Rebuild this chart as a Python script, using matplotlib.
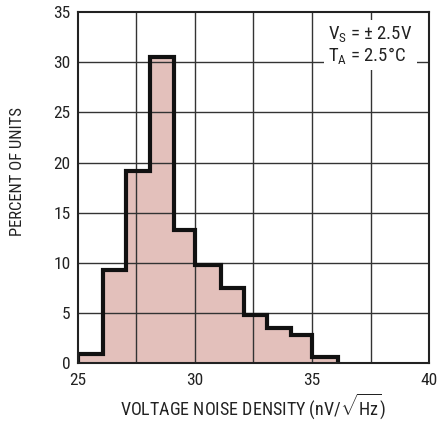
import matplotlib
matplotlib.use("Agg")
import matplotlib.pyplot as plt
from matplotlib import font_manager

# bin edges and heights
edges = [25, 26.08, 27.05, 28.07, 29.1, 30.0, 31.1, 32.08, 33.07, 34.1, 35.0, 36.1]
percent = [0.86, 9.3, 19.2, 30.5, 13.3, 9.8, 7.45, 4.8, 3.5, 2.75, 0.55]

xticks = [25, 30, 35, 40]
yticks = [0, 5, 10, 15, 20, 25, 30, 35]

# narrow face, like the datasheet one
have = {f.name for f in font_manager.fontManager.ttflist}
fam = 'Roboto Condensed' if 'Roboto Condensed' in have else 'Liberation Sans'

plt.rcParams['font.family'] = [fam, 'DejaVu Sans']
plt.rcParams['mathtext.fontset'] = 'custom'
plt.rcParams['mathtext.rm'] = fam
plt.rcParams['mathtext.it'] = fam

fig = plt.figure(figsize=(4.37, 4.21), dpi=100)
ax = fig.add_axes([0.178, 0.138, 0.804, 0.833])

ax.stairs(percent, edges, fill=True, facecolor='#e3c0bb', edgecolor='none', zorder=1)
# grid above fill
for x in [27.5, 30, 32.5, 35, 37.5]:
    ax.axvline(x, color='#333333', lw=1.0, zorder=2)
for y in yticks[1:-1]:
    ax.axhline(y, color='#333333', lw=1.0, zorder=2)
ax.stairs(percent, edges, color='#111111', lw=3, zorder=3)

ax.set_xlim(25, 40)
ax.set_ylim(0, 35)
ax.set_xticks(xticks)
ax.set_yticks(yticks)
ax.tick_params(length=0, labelsize=12.5, colors='#222222')
ax.tick_params(axis='x', pad=7)
ax.tick_params(axis='y', pad=5)
for s in ax.spines.values():
    s.set_linewidth(1.5)
    s.set_color('#222222')
    s.set_zorder(4)

ax.set_xlabel(r'VOLTAGE NOISE DENSITY (nV/$\sqrt{\mathrm{Hz}}$)', fontsize=13, color='#222222', labelpad=3)
ax.set_ylabel('PERCENT OF UNITS', fontsize=12, color='#222222')
ax.yaxis.set_label_coords(-0.15, 0.547)

ax.text(35.7, 33.8, 'V$_\\mathrm{S}$ = ± 2.5V\nT$_\\mathrm{A}$ = 2.5°C', fontsize=13.5,
        va='top', ha='left', color='#222222', linespacing=1.05, zorder=5,
        bbox=dict(facecolor='white', edgecolor='none', pad=3))

fig.savefig('out.png', dpi=100)
